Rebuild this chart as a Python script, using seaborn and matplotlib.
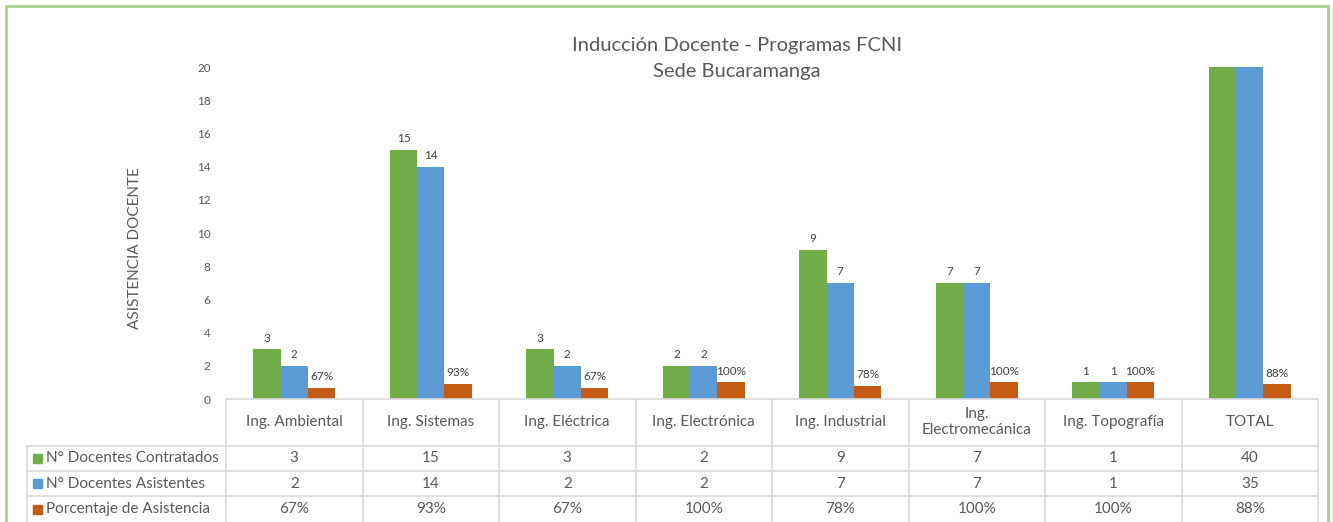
import matplotlib
matplotlib.use("Agg")
import matplotlib.pyplot as plt
import seaborn as sns
import pandas as pd
from matplotlib.patches import Rectangle
from matplotlib.lines import Line2D

# Data
programas = ["Ing. Ambiental", "Ing. Sistemas", "Ing. Eléctrica", "Ing. Electrónica",
             "Ing. Industrial", "Ing.\nElectromecánica", "Ing. Topografía", "TOTAL"]
contratados = [3, 15, 3, 2, 9, 7, 1, 40]
asistentes = [2, 14, 2, 2, 7, 7, 1, 35]
porcentaje = [0.67, 0.93, 0.67, 1.00, 0.78, 1.00, 1.00, 0.88]

series = ["N° Docentes Contratados", "N° Docentes Asistentes", "Porcentaje de Asistencia"]
colores = ["#70AD47", "#5B9BD5", "#C55A11"]
grey = "#595959"
line_c = "#D9D9D9"

df = pd.DataFrame({
    "programa": programas * 3,
    "serie": [series[0]] * 8 + [series[1]] * 8 + [series[2]] * 8,
    "valor": contratados + asistentes + porcentaje,
})

sns.set_theme(style="white")
plt.rcParams["font.family"] = ["Lato", "DejaVu Sans"]

W, H = 1333, 522
fig = plt.figure(figsize=(W / 100, H / 100), dpi=100)

def fx(px):
    return px / W

def fy(py):
    return 1 - py / H

x0, x1, y0, y1 = 226, 1318, 399, 67
ax = fig.add_axes([fx(x0), fy(y0), fx(x1) - fx(x0), fy(y1) - fy(y0)])

sns.barplot(data=df, x="programa", y="valor", hue="serie", order=programas,
            hue_order=series, palette=colores, width=0.6, ax=ax, legend=False,
            saturation=1, edgecolor="none")

ax.set_ylim(0, 20)
ax.set_xlim(-0.5, len(programas) - 0.5)
ax.set_yticks(range(0, 21, 2))
ax.tick_params(axis="y", labelsize=8.5, colors=grey, length=0, pad=11)
ax.set_xticks([])
ax.set_xlabel("")
ax.set_ylabel("ASISTENCIA DOCENTE", fontsize=11, color=grey)
ax.yaxis.set_label_coords(-0.077, 0.455)
for s in ax.spines.values():
    s.set_visible(False)

# data labels (skip bars cut at the top of the axis)
for cont, vals, pct in zip(ax.containers, [contratados, asistentes, porcentaje],
                           [False, False, True]):
    labels = []
    for v in vals:
        if v > 20:
            labels.append("")
        elif pct:
            labels.append(f"{v:.0%}")
        else:
            labels.append(f"{v}")
    ax.bar_label(cont, labels=labels, padding=4, fontsize=8.5, color="#404040")

# title
fig.text(fx(737), fy(45), "Inducción Docente - Programas FCNI", ha="center", va="center",
         fontsize=14.5, color=grey)
fig.text(fx(737), fy(72), "Sede Bucaramanga", ha="center", va="center",
         fontsize=14.5, color=grey)

# data table
rows_y = [399, 446, 471, 496, 522]
col_w = (x1 - x0) / len(programas)
col_x = [x0 + i * col_w for i in range(len(programas) + 1)]
lab_x = 27

def hline(y, xa, xb):
    fig.add_artist(Line2D([fx(xa), fx(xb)], [fy(y), fy(y)], color=line_c, lw=1.2))

def vline(x, ya, yb):
    fig.add_artist(Line2D([fx(x), fx(x)], [fy(ya), fy(yb)], color=line_c, lw=1.2))

hline(399, x0, x1)
for y in rows_y[1:4]:
    hline(y, lab_x, x1)
for x in col_x:
    vline(x, 399, 522)
vline(lab_x, 446, 522)

for i, p in enumerate(programas):
    cx = (col_x[i] + col_x[i + 1]) / 2
    fig.text(fx(cx), fy(422), p, ha="center", va="center", fontsize=11,
             color=grey, linespacing=1.15)

table_vals = [
    [str(v) for v in contratados],
    [str(v) for v in asistentes],
    [f"{v:.0%}" for v in porcentaje],
]
for r, (name, col, vals) in enumerate(zip(series, colores, table_vals)):
    cy = (rows_y[r + 1] + rows_y[r + 2]) / 2
    fig.add_artist(Rectangle((fx(33), fy(cy + 4.5)), fx(9), 9 / H, color=col,
                             transform=fig.transFigure))
    fig.text(fx(46), fy(cy), name, ha="left", va="center", fontsize=11, color=grey)
    for i, v in enumerate(vals):
        cx = (col_x[i] + col_x[i + 1]) / 2
        fig.text(fx(cx), fy(cy), v, ha="center", va="center", fontsize=11, color=grey)

# chart frame
fig.add_artist(Rectangle((fx(6), fy(540)), fx(1322), (540 - 6) / H, fill=False,
                         edgecolor="#A9D18E", lw=2, transform=fig.transFigure))

fig.savefig("out.png", dpi=100)
